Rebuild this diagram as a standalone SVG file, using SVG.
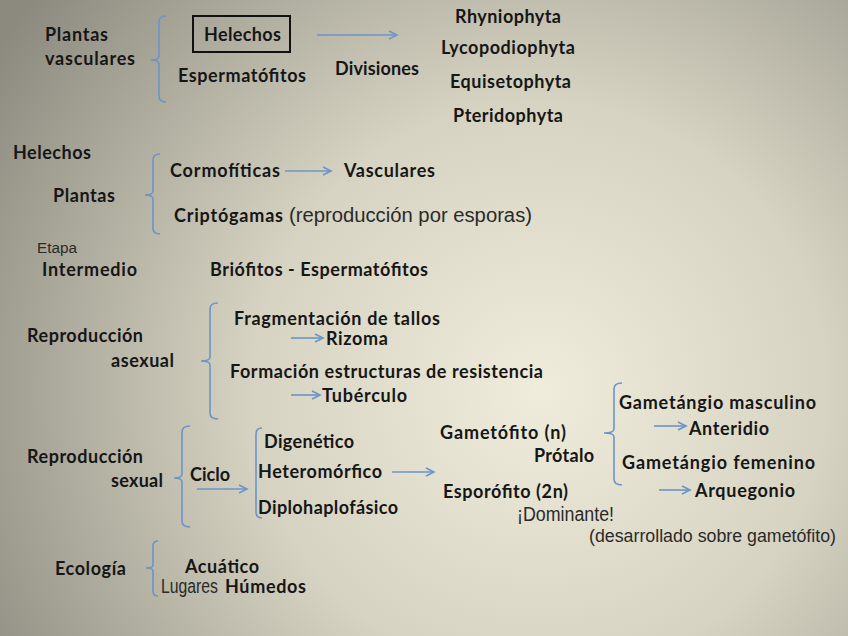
<svg xmlns="http://www.w3.org/2000/svg" width="848" height="636" viewBox="0 0 848 636">
<defs>
<radialGradient id="bg" gradientUnits="userSpaceOnUse" cx="540" cy="390" r="640">
<stop offset="0" stop-color="#f0ecdb"/>
<stop offset="0.45" stop-color="#d6d3c2"/>
<stop offset="1" stop-color="#8c8a7f"/>
</radialGradient>
<marker id="ah" markerWidth="12" markerHeight="10" refX="10" refY="5" orient="auto" markerUnits="userSpaceOnUse">
<polyline points="2,1 10,5 2,9" fill="none" stroke="#6b94c9" stroke-width="1.6"/>
</marker>
<style>
.t{font-family:Lato,"Open Sans","Liberation Sans",sans-serif;font-weight:bold;font-size:18px;fill:#161616}
.r{font-family:"Liberation Sans",Arial,sans-serif;font-weight:normal;font-size:19.5px;fill:#2a2a2a}
.s{font-size:14px}
.m{font-size:17.5px}
.br{fill:none;stroke:#6b94c9;stroke-width:1.6}
.ar{fill:none;stroke:#6b94c9;stroke-width:1.6;marker-end:url(#ah)}
.box{fill:none;stroke:#111;stroke-width:2}
</style>
</defs>
<rect width="848" height="636" fill="url(#bg)"/>

<g id="connectors">
<path class="br" d="M166,16 Q159,16 159,22 L159,56 Q159,60 151,60 Q159,60 159,64 L159,96 Q159,102 166,102"/>
<path class="br" d="M160,154 Q153,154 153,160 L153,191 Q153,195 145,195 Q153,195 153,199 L153,228 Q153,234 160,234"/>
<path class="br" d="M218,303 Q210,303 210,309 L210,357 Q210,361 201,361 Q210,361 210,365 L210,413 Q210,419 218,419"/>
<path class="br" d="M190,426 Q182,426 182,432 L182,474 Q182,478 174,478 Q182,478 182,482 L182,521 Q182,527 190,527"/>
<path class="br" d="M262,428 Q256,428 256,434 L256,512 Q256,518 262,518"/>
<path class="br" d="M622,383 Q614,383 614,389 L614,429 Q614,433 604,433 Q614,433 614,437 L614,479 Q614,485 622,485"/>
<path class="br" d="M158,541 Q153,541 153,546 L153,565 Q153,568 146,568 Q153,568 153,571 L153,591 Q153,596 158,596"/>
<line class="ar" x1="317" y1="35" x2="397" y2="35"/>
<line class="ar" x1="285" y1="171" x2="331" y2="171"/>
<line class="ar" x1="291" y1="338" x2="323" y2="338"/>
<line class="ar" x1="291" y1="395" x2="320" y2="395"/>
<line class="ar" x1="197" y1="489" x2="247" y2="489"/>
<line class="ar" x1="392" y1="472" x2="434" y2="472"/>
<line class="ar" x1="654" y1="426" x2="686" y2="426"/>
<line class="ar" x1="659" y1="490" x2="690" y2="490"/>
</g>

<g id="plantas-vasculares"><text class="t" x="45" y="41" textLength="63">Plantas</text><text class="t" x="45" y="65" textLength="90">vasculares</text></g>
<g id="helechos-box"><rect class="box" x="193" y="16" width="97" height="36"/><text class="t" x="204" y="41" textLength="77">Helechos</text></g>
<g id="espermatofitos"><text class="t" x="178" y="82" textLength="128">Espermatófitos</text></g>
<g id="divisiones"><text class="t" x="335" y="75" textLength="84">Divisiones</text></g>
<g id="rhyniophyta"><text class="t" x="455" y="23" textLength="106">Rhyniophyta</text></g>
<g id="lycopodiophyta"><text class="t" x="441" y="54" textLength="134">Lycopodiophyta</text></g>
<g id="equisetophyta"><text class="t" x="450" y="88" textLength="121">Equisetophyta</text></g>
<g id="pteridophyta"><text class="t" x="453" y="122" textLength="110">Pteridophyta</text></g>

<g id="helechos"><text class="t" x="13" y="159" textLength="78">Helechos</text></g>
<g id="plantas"><text class="t" x="53" y="202" textLength="62">Plantas</text></g>
<g id="cormofiticas"><text class="t" x="170" y="177" textLength="110">Cormofíticas</text></g>
<g id="vasculares"><text class="t" x="344" y="177" textLength="91">Vasculares</text></g>
<g id="criptogamas"><text class="t" x="174" y="222" textLength="109">Criptógamas</text><text class="r" x="289" y="222" textLength="243" lengthAdjust="spacingAndGlyphs">(reproducción por esporas)</text></g>
<g id="etapa"><text class="r s" x="37" y="253" textLength="40" lengthAdjust="spacingAndGlyphs">Etapa</text></g>
<g id="intermedio"><text class="t" x="42" y="276" textLength="95">Intermedio</text></g>
<g id="briofitos"><text class="t" x="210" y="276" textLength="218">Briófitos - Espermatófitos</text></g>

<g id="repro-asexual"><text class="t" x="27" y="342" textLength="116">Reproducción</text><text class="t" x="111" y="367" textLength="63">asexual</text></g>
<g id="fragmentacion"><text class="t" x="234" y="325" textLength="206">Fragmentación de tallos</text></g>
<g id="rizoma"><text class="t" x="326" y="345" textLength="62">Rizoma</text></g>
<g id="formacion"><text class="t" x="230" y="378" textLength="313">Formación estructuras de resistencia</text></g>
<g id="tuberculo"><text class="t" x="322" y="402" textLength="85">Tubérculo</text></g>

<g id="repro-sexual"><text class="t" x="27" y="463" textLength="116">Reproducción</text><text class="t" x="111" y="487" textLength="52">sexual</text></g>
<g id="ciclo"><text class="t" x="190" y="481" textLength="40">Ciclo</text></g>
<g id="digenetico"><text class="t" x="264" y="448" textLength="90">Digenético</text></g>
<g id="heteromorfico"><text class="t" x="258" y="478" textLength="124">Heteromórfico</text></g>
<g id="diplohaplofasico"><text class="t" x="258" y="514" textLength="140">Diplohaplofásico</text></g>
<g id="gametofito"><text class="t" x="440" y="439" textLength="126">Gametófito (n)</text></g>
<g id="protalo"><text class="t" x="534" y="462" textLength="60">Prótalo</text></g>
<g id="esporofito"><text class="t" x="443" y="498" textLength="125">Esporófito (2n)</text></g>
<g id="dominante"><text class="r" x="517" y="521" textLength="97" lengthAdjust="spacingAndGlyphs">¡Dominante!</text></g>
<g id="desarrollado"><text class="r m" x="589" y="542" textLength="247" lengthAdjust="spacingAndGlyphs">(desarrollado sobre gametófito)</text></g>
<g id="gam-masculino"><text class="t" x="619" y="409" textLength="197">Gametángio masculino</text></g>
<g id="anteridio"><text class="t" x="689" y="435" textLength="80">Anteridio</text></g>
<g id="gam-femenino"><text class="t" x="622" y="469" textLength="193">Gametángio femenino</text></g>
<g id="arquegonio"><text class="t" x="695" y="497" textLength="100">Arquegonio</text></g>

<g id="ecologia"><text class="t" x="55" y="575" textLength="71">Ecología</text></g>
<g id="acuatico"><text class="t" x="185" y="573" textLength="74">Acuático</text></g>
<g id="lugares-humedos"><text class="r" x="161" y="593" textLength="57" lengthAdjust="spacingAndGlyphs">Lugares</text><text class="t" x="225" y="593" textLength="81">Húmedos</text></g>
</svg>
